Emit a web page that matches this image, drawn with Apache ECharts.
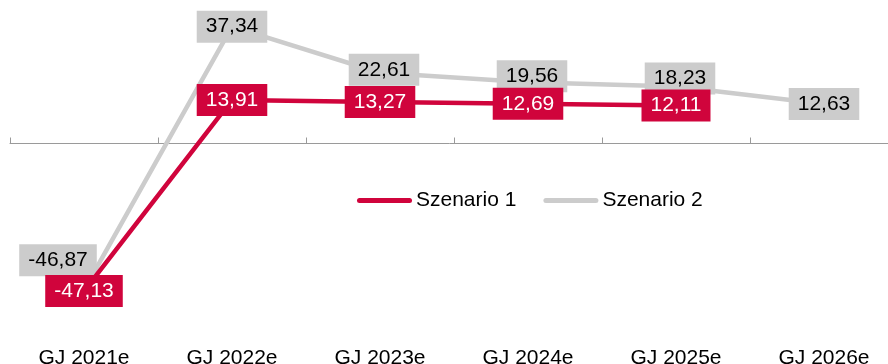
<!DOCTYPE html>
<html>
<head>
<meta charset="utf-8">
<script src="https://cdn.jsdelivr.net/npm/echarts@6/dist/echarts.min.js"></script>
<style>
  html, body { margin: 0; padding: 0; background: #ffffff; }
  #chart { width: 888px; height: 364px; }
</style>
</head>
<body>
<div id="chart"></div>
<script>
// Fiscal years on the category axis
const categories = ['GJ 2021e', 'GJ 2022e', 'GJ 2023e', 'GJ 2024e', 'GJ 2025e', 'GJ 2026e'];

// Values per scenario (null = no value for that year)
const szenario1 = [-47.13, 13.91, 13.27, 12.69, 12.11, null];
const szenario2 = [-46.87, 37.34, 22.61, 19.56, 18.23, 12.63];

const seriesNames = ['Szenario 1', 'Szenario 2'];

const RED = '#D0043C';
const GREY = '#CCCCCC';
const FONT = '"Liberation Sans", Arial, Helvetica, sans-serif';

// Small nudges so the grey value boxes don't sit on top of the red ones
const greyLabelShift = [[-26, -30], [0, 0], [4, -3], [4, -6], [4, -8], [0, 0]];

const fmt = v => v.toFixed(2).replace('.', ',');

function buildData(values, shifts) {
  return values.map((v, i) => {
    if (v === null) return null;
    const item = { value: v };
    if (shifts && (shifts[i][0] || shifts[i][1])) {
      item.label = { offset: shifts[i] };
    }
    return item;
  });
}

const chart = echarts.init(document.getElementById('chart'), null, { renderer: 'canvas' });

const option = {
  backgroundColor: '#ffffff',
  animation: false,
  textStyle: { fontFamily: FONT },
  legend: {
    data: seriesNames,
    left: 357,
    top: 190,
    padding: 0,
    itemWidth: 55,
    itemHeight: 5,
    itemGap: 27,
    icon: 'path://M2.5,0 L52.5,0 A2.5,2.5 0 0 1 52.5,5 L2.5,5 A2.5,2.5 0 0 1 2.5,0 Z',
    textStyle: { fontFamily: FONT, fontSize: 21, color: '#000000', padding: [0, 0, 0, -1] }
  },
  grid: {
    left: 10, width: 888, top: 18.3, height: 313,
    containLabel: false,
    outerBoundsMode: 'none'
  },
  xAxis: [
    {
      // year labels along the bottom
      type: 'category',
      data: categories,
      position: 'bottom',
      boundaryGap: true,
      axisLine: { show: false, onZero: false },
      axisTick: { show: false },
      axisLabel: { fontFamily: FONT, fontSize: 21, color: '#000000', margin: 16 }
    },
    {
      // zero line with tick marks between the years
      type: 'category',
      data: categories,
      position: 'bottom',
      boundaryGap: true,
      axisLine: { show: true, onZero: true, lineStyle: { color: '#9A9A9A', width: 1 } },
      axisTick: { show: true, inside: true, length: 6, lineStyle: { color: '#9A9A9A', width: 1 } },
      axisLabel: { show: false }
    }
  ],
  yAxis: {
    type: 'value',
    min: -60,
    max: 40,
    show: false,
    splitLine: { show: false }
  },
  series: [
    {
      name: seriesNames[1],
      type: 'line',
      data: buildData(szenario2, greyLabelShift),
      symbol: 'circle',
      symbolSize: 2,
      itemStyle: { color: GREY },
      lineStyle: { color: GREY, width: 4.5 },
      z: 2,
      label: {
        show: true,
        position: 'inside',
        formatter: p => fmt(p.value),
        fontFamily: FONT,
        fontSize: 21,
        color: '#000000',
        backgroundColor: GREY,
        padding: [6, 9, 5, 9],
        lineHeight: 21
      }
    },
    {
      name: seriesNames[0],
      type: 'line',
      data: buildData(szenario1, null),
      symbol: 'circle',
      symbolSize: 2,
      itemStyle: { color: RED },
      lineStyle: { color: RED, width: 4.5 },
      z: 3,
      label: {
        show: true,
        position: 'inside',
        formatter: p => fmt(p.value),
        fontFamily: FONT,
        fontSize: 21,
        color: '#ffffff',
        backgroundColor: RED,
        padding: [6, 9, 5, 9],
        lineHeight: 21
      }
    }
  ]
};

chart.setOption(option);
</script>
</body>
</html>
